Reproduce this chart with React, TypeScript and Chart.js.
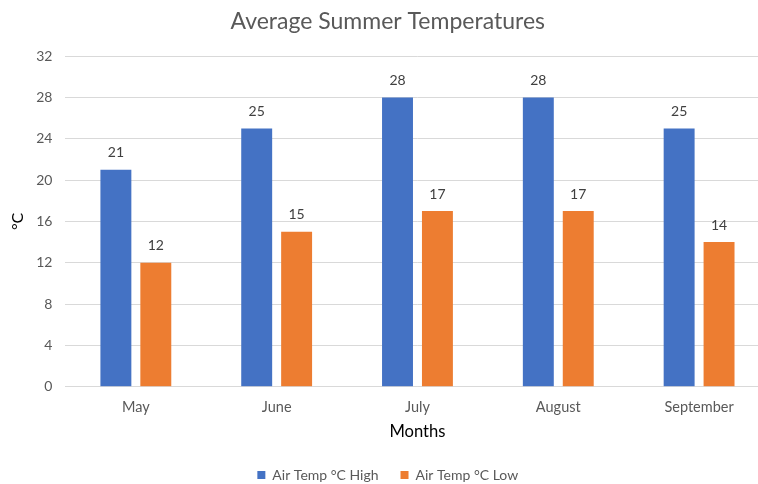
import React, { useEffect, useRef } from "react";
import { Chart, registerables } from "chart.js";

Chart.register(...registerables);

const chartTitle = "Average Summer Temperatures";
const months = ["May", "June", "July", "August", "September"];
const highTemps = [21, 25, 28, 28, 25];
const lowTemps = [12, 15, 17, 17, 14];
const seriesLabels = ["Air Temp °C High", "Air Temp °C Low"];
const seriesColors = ["#4472C4", "#ED7D31"];
const yAxisTitle = "°C";
const xAxisTitle = "Months";
const yMin = 0;
const yMax = 32;
const yStep = 4;

const FONT = "Lato, 'Open Sans', sans-serif";

const valueLabels = {
  id: "valueLabels",
  afterDatasetsDraw(chart: any) {
    const ctx = chart.ctx;
    ctx.save();
    ctx.font = `14px ${FONT}`;
    ctx.fillStyle = "#404040";
    ctx.textAlign = "center";
    ctx.textBaseline = "middle";
    chart.data.datasets.forEach((ds: any, i: number) => {
      const meta = chart.getDatasetMeta(i);
      meta.data.forEach((el: any, j: number) => {
        ctx.fillText(String(ds.data[j]), el.x, el.y - 17);
      });
    });
    ctx.restore();
  },
};

export default function App() {
  const canvasRef = useRef<HTMLCanvasElement | null>(null);

  useEffect(() => {
    if (!canvasRef.current) return;
    const chart = new Chart(canvasRef.current, {
      type: "bar",
      data: {
        labels: months,
        datasets: [
          {
            label: seriesLabels[0],
            data: highTemps,
            backgroundColor: seriesColors[0],
            borderWidth: 0,
          },
          {
            label: seriesLabels[1],
            data: lowTemps,
            backgroundColor: seriesColors[1],
            borderWidth: 0,
          },
        ],
      },
      options: {
        animation: false,
        responsive: false,
        devicePixelRatio: 1,
        datasets: {
          bar: {
            categoryPercentage: 0.567,
            barPercentage: 0.775,
          },
        },
        layout: {
          padding: { left: 6, right: 6.5, top: 0, bottom: 0 },
        },
        plugins: {
          title: {
            display: true,
            text: chartTitle,
            color: "#595959",
            font: { family: FONT, size: 23, weight: "normal" },
            padding: { top: 7.5, bottom: 21 },
          },
          legend: {
            display: true,
            position: "bottom",
            labels: {
              boxWidth: 8,
              boxHeight: 8,
              padding: 22,
              color: "#595959",
              font: { family: FONT, size: 14 },
            },
          },
          tooltip: { enabled: false },
        },
        scales: {
          x: {
            grid: { display: false, drawTicks: false },
            border: { display: true, color: "#d9d9d9", width: 1 },
            ticks: {
              color: "#595959",
              font: { family: FONT, size: 14.5 },
              padding: 12,
            },
            title: {
              display: true,
              text: xAxisTitle,
              color: "#000000",
              font: { family: FONT, size: 16.6 },
              padding: { top: -6, bottom: 4 },
            },
          },
          y: {
            min: yMin,
            max: yMax,
            grid: { color: "#d9d9d9", drawTicks: false },
            border: { display: false },
            ticks: {
              stepSize: yStep,
              color: "#595959",
              font: { family: FONT, size: 14 },
              padding: 13,
            },
            title: {
              display: true,
              text: yAxisTitle,
              color: "#000000",
              font: { family: FONT, size: 16 },
              padding: { top: 2, bottom: -4 },
            },
          },
        },
      },
      plugins: [valueLabels],
    });
    return () => chart.destroy();
  }, []);

  return (
    <div
      style={{
        position: "fixed",
        left: 0,
        top: 0,
        width: 758,
        height: 484,
        overflow: "hidden",
        background: "#ffffff",
      }}
    >
      <canvas ref={canvasRef} width={776} height={492} style={{ display: "block" }} />
    </div>
  );
}
